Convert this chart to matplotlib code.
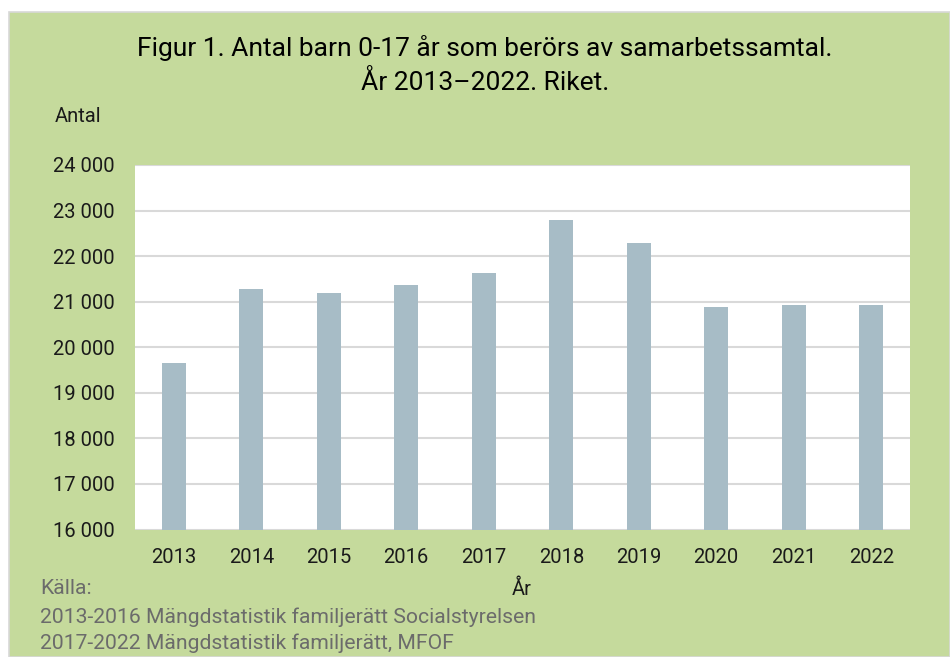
import matplotlib
matplotlib.use("Agg")
import matplotlib.pyplot as plt
from matplotlib.patches import Rectangle

years = ["2013", "2014", "2015", "2016", "2017", "2018", "2019", "2020", "2021", "2022"]
values = [19650, 21270, 21190, 21360, 21630, 22790, 22290, 20890, 20930, 20920]
yticks = [16000, 17000, 18000, 19000, 20000, 21000, 22000, 23000, 24000]
ytick_labels = ["16 000", "17 000", "18 000", "19 000", "20 000", "21 000", "22 000", "23 000", "24 000"]

plt.rcParams['font.family'] = ['Roboto', 'DejaVu Sans']

W, H = 950, 657
fig = plt.figure(figsize=(9.5, 6.57), dpi=100)
fig.patch.set_facecolor("white")

green = "#C5DA9C"
bg = Rectangle((9 / W, 0), 1 - 9 / W, 1 - 12 / H, transform=fig.transFigure,
               facecolor=green, edgecolor="#D8D8D8", linewidth=1.2, zorder=0)
fig.add_artist(bg)

left, right, top, bottom = 135 / W, 910 / W, 1 - 165 / H, 1 - 529.5 / H
ax = fig.add_axes([left, bottom, right - left, top - bottom])
ax.set_zorder(2)
ax.set_facecolor("white")
x = range(len(years))
ax.bar(x, values, width=0.315, color="#A7BCC6", zorder=3)
ax.set_xlim(-0.5, len(years) - 0.5)
ax.set_ylim(16000, 24000)
ax.set_yticks(yticks)
ax.set_yticklabels(ytick_labels)
ax.set_xticks(list(x))
ax.set_xticklabels(years)
ax.grid(axis="y", color="#D9D9D9", linewidth=1.5, zorder=1)
ax.set_axisbelow(True)
for s in ax.spines.values():
    s.set_visible(False)
ax.tick_params(axis="both", length=0, labelsize=14.5, colors="#1a1a1a")
ax.tick_params(axis="x", pad=13)
ax.tick_params(axis="y", pad=14.5)

fig.text(485 / W, 1 - 48 / H, "Figur 1. Antal barn 0-17 år som berörs av samarbetssamtal.",
         ha="center", va="center", fontsize=19, color="black", zorder=3)
fig.text(485 / W, 1 - 82 / H, "År 2013\u20132022. Riket.",
         ha="center", va="center", fontsize=19, color="black", zorder=3)
fig.text(55 / W, 1 - 116 / H, "Antal", ha="left", va="center", fontsize=14.5, color="#1a1a1a", zorder=3)
fig.text(522 / W, 1 - 589 / H, "År", ha="center", va="center", fontsize=14.5, color="#1a1a1a", zorder=3)
grey = "#6b6b6b"
fig.text(40 / W, 1 - 589 / H, "Källa:", ha="left", va="center", fontsize=15.2, color=grey, zorder=3)
fig.text(40 / W, 1 - 617 / H, "2013-2016 Mängdstatistik familjerätt Socialstyrelsen",
         ha="left", va="center", fontsize=15.2, color=grey, zorder=3)
fig.text(40 / W, 1 - 643 / H, "2017-2022 Mängdstatistik familjerätt, MFOF",
         ha="left", va="center", fontsize=15.2, color=grey, zorder=3)

fig.savefig("out.png", dpi=100, facecolor=fig.get_facecolor())
